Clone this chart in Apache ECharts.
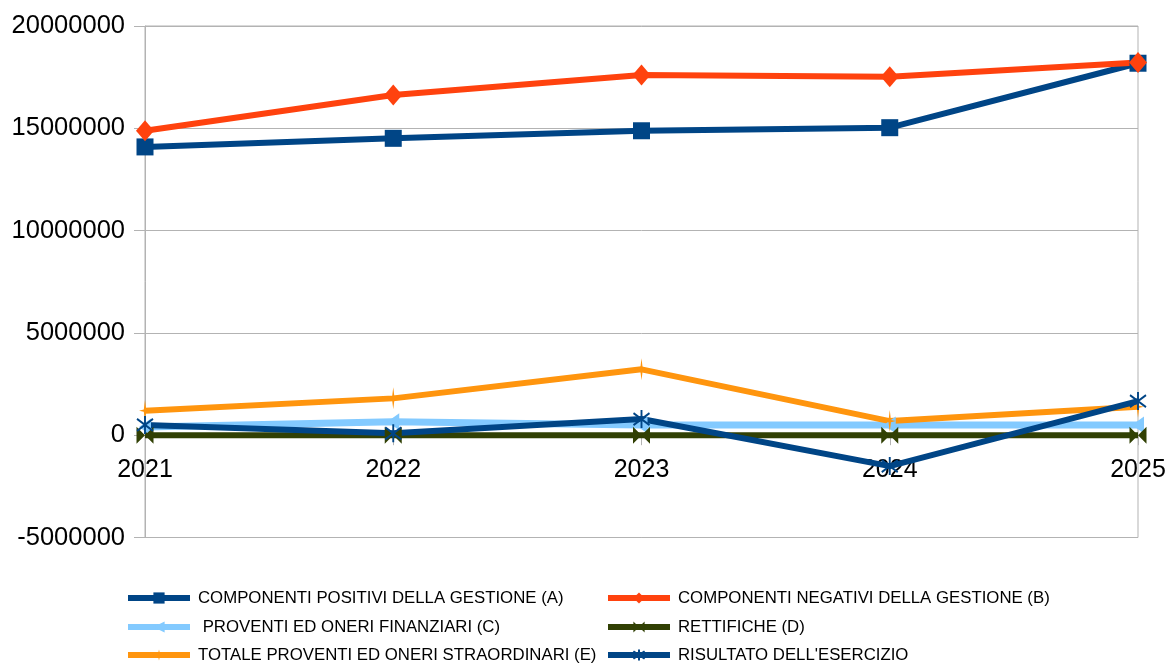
<!DOCTYPE html>
<html>
<head>
<meta charset="utf-8">
<style>
  html, body { margin: 0; padding: 0; background: #fff; }
  #chart { width: 1165px; height: 664px; }
</style>
<script src="https://cdn.jsdelivr.net/npm/echarts@6/dist/echarts.min.js"></script>
</head>
<body>
<div id="chart"></div>
<script>
// dati
const years = ["2021", "2022", "2023", "2024", "2025"];
const positivi = [14090000, 14510000, 14880000, 15030000, 18180000];
const negativi = [14880000, 16630000, 17600000, 17520000, 18220000];
const finanziari = [400000, 660000, 500000, 500000, 500000];
const rettifiche = [0, 0, 0, 0, 0];
const straordinari = [1200000, 1800000, 3220000, 690000, 1390000];
const risultato = [500000, 90000, 790000, -1510000, 1670000];

const nomi = [
  "COMPONENTI POSITIVI DELLA GESTIONE (A)",
  "COMPONENTI NEGATIVI DELLA GESTIONE (B)",
  " PROVENTI ED ONERI FINANZIARI (C)",
  "RETTIFICHE (D)",
  "TOTALE PROVENTI ED ONERI STRAORDINARI (E)",
  "RISULTATO DELL'ESERCIZIO"
];

const gridColor = "#b3b3b3";
const font = "Liberation Sans";

const chart = echarts.init(document.getElementById("chart"));

// una legenda per riga, due colonne
const legendRow = (top, data) => ({
  orient: "horizontal", left: 125, top: top, padding: 0,
  itemWidth: 62, itemHeight: 14, itemGap: 0,
  lineStyle: { width: 6 },
  textStyle: { color: "#000", fontSize: 16.8, fontFamily: font, lineHeight: 20, width: 407, padding: [0, 0, 0, 3] },
  data: data
});

const option = {
  animation: false,
  grid: {
    left: 145, right: 27, top: 26, bottom: 126.5,
    outerBoundsMode: "none",
    show: true, borderColor: gridColor, borderWidth: 1
  },
  legend: [
    legendRow(588, [nomi[0], nomi[1]]),
    legendRow(617, [nomi[2], nomi[3]]),
    legendRow(645, [nomi[4], nomi[5]])
  ],
  xAxis: {
    type: "category",
    data: years,
    boundaryGap: false,
    // l'asse x sta sullo zero
    offset: -102.3,
    axisLine: { onZero: false, lineStyle: { color: gridColor, width: 1 } },
    axisTick: { length: 10, lineStyle: { color: gridColor } },
    axisLabel: { color: "#000", fontSize: 25, fontFamily: font, margin: 22 },
    splitLine: { show: false }
  },
  yAxis: {
    type: "value",
    min: -5000000, max: 20000000, interval: 5000000,
    axisLine: { show: true, lineStyle: { color: gridColor } },
    axisTick: { show: true, length: 11, lineStyle: { color: gridColor } },
    axisLabel: { color: "#000", fontSize: 25.5, fontFamily: font, margin: 20, formatter: (v) => String(v) },
    splitLine: { lineStyle: { color: gridColor } }
  },
  series: [
    {
      name: nomi[0], type: "line", data: positivi,
      symbol: "rect", symbolSize: 17,
      lineStyle: { width: 6, color: "#004586" }, itemStyle: { color: "#004586" }
    },
    {
      name: nomi[1], type: "line", data: negativi,
      symbol: "diamond", symbolSize: [18, 21],
      lineStyle: { width: 6, color: "#ff420e" }, itemStyle: { color: "#ff420e" }
    },
    {
      name: nomi[2], type: "line", data: finanziari,
      symbol: "triangle", symbolSize: [17, 12], symbolRotate: 90,
      lineStyle: { width: 7, color: "#83caff" }, itemStyle: { color: "#83caff" }
    },
    {
      name: nomi[3], type: "line", data: rettifiche,
      symbol: "path://M0,0L10,5L0,10ZM20,0L10,5L20,10Z", symbolSize: [17, 17], symbolKeepAspect: false,
      lineStyle: { width: 6, color: "#314004" }, itemStyle: { color: "#314004" }
    },
    {
      name: nomi[4], type: "line", data: straordinari,
      symbol: "path://M5,0L6,9L10,10L6,11L5,20L4,11L0,10L4,9Z", symbolSize: [12, 22], symbolKeepAspect: false,
      lineStyle: { width: 6, color: "#ff950e" }, itemStyle: { color: "#ff950e" }
    },
    {
      name: nomi[5], type: "line", data: risultato,
      symbol: "path://M0,2L10,10M10,2L0,10M5,0L5,12", symbolSize: [16, 18], symbolKeepAspect: false,
      lineStyle: { width: 6, color: "#004586" },
      itemStyle: { color: "#004586", borderColor: "#004586", borderWidth: 2 }
    }
  ]
};

chart.setOption(option);
window.addEventListener("resize", () => chart.resize());
</script>
</body>
</html>
